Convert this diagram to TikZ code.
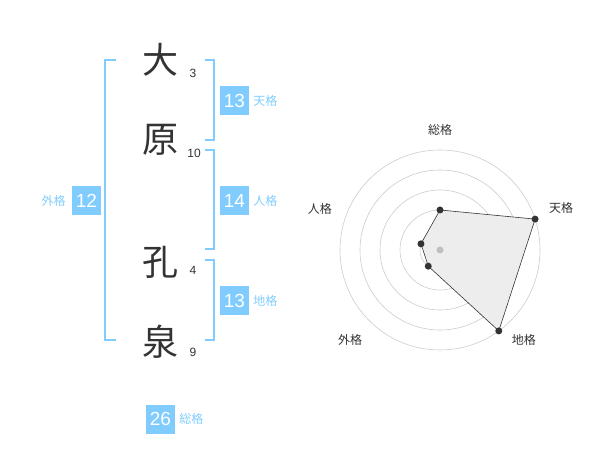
\documentclass[tikz,border=0pt]{standalone}
\usepackage{fontspec}
\setmainfont{Liberation Sans}
\newfontfamily\cjk{Noto Sans CJK JP}
\usepackage{tikz}
\usetikzlibrary{positioning}
\definecolor{kakublue}{HTML}{80CCFF}
\definecolor{inkgray}{HTML}{333333}
\tikzstyle{namechar}=[font=\cjk\fontsize{36}{36}\selectfont, text=inkgray, inner sep=0pt]
\tikzstyle{strokes}=[font=\fontsize{12}{12}\selectfont, text=inkgray, inner sep=0pt]
\tikzstyle{scorebox}=[fill=kakublue, text=white, minimum size=29pt, inner sep=0pt, font=\fontsize{19}{19}\selectfont]
\tikzstyle{kakulbl}=[font=\cjk\fontsize{12}{12}\selectfont, text=kakublue, inner sep=0pt]
\tikzstyle{bracket}=[draw=kakublue, line width=2pt]
\tikzstyle{ring}=[draw=black!20, line width=0.6pt]
\tikzstyle{radarlbl}=[font=\cjk\fontsize{12}{12}\selectfont, text=inkgray, inner sep=0pt]
\tikzstyle{tinyvertex}=[circle, fill=inkgray, minimum size=7pt, inner sep=0pt]

\begin{document}
\begin{tikzpicture}[x=1pt, y=-1pt]
    \useasboundingbox (0,0) rectangle (600,470);

    % the name, one character per row
    \foreach \pos/\name/\ch in {{(160,60)/c1/大}, {(160,140)/c2/原}, {(160,262)/c3/孔}, {(160,342)/c4/泉}}
        \node[namechar] (\name) at \pos {\ch};
    \foreach \pos/\name/\n in {{(193,73)/s1/3}, {(194,153)/s2/10}, {(193,270)/s3/4}, {(193,352)/s4/9}}
        \node[strokes] (\name) at \pos {\n};

    % brackets
    \draw[bracket] (116,60) -- (105,60) -- (105,340) -- (116,340);
    \draw[bracket] (205,60) -- (214,60) -- (214,140) -- (205,140);
    \draw[bracket] (205,150) -- (214,150) -- (214,249) -- (205,249);
    \draw[bracket] (205,260) -- (214,260) -- (214,340) -- (205,340);

    % scores
    \node[scorebox] (ten) at (234.5,100.5) {13};
    \node[kakulbl, right=4pt of ten] (tenl) {天格};
    \node[scorebox] (jin) at (234.5,200.5) {14};
    \node[kakulbl, right=4pt of jin] (jinl) {人格};
    \node[scorebox] (chi) at (234.5,300.5) {13};
    \node[kakulbl, right=4pt of chi] (chil) {地格};
    \node[scorebox] (gai) at (86.5,200.5) {12};
    \node[kakulbl, left=6pt of gai] (gail) {外格};
    \node[scorebox] (so) at (160.5,419) {26};
    \node[kakulbl, right=4pt of so] (sol) {総格};

    % radar chart
    \coordinate (ctr) at (440,250);
    \foreach \r in {20,40,60,80,100}
        \draw[ring] (ctr) circle (\r pt);
    \begin{scope}[shift={(ctr)}]
    \foreach \ang/\val/\name in {90/2/so, 18/5/ten, -54/5/chi, -126/1/gai, 162/1/jin}
        \coordinate (p-\name) at (\ang:\val*20pt);
    \foreach \ang/\rad/\name/\txt in {90/120/so/総格, 19/128/ten/天格, -47/123/chi/地格, -135/127/gai/外格, 161/127/jin/人格}
        \node[radarlbl] (l-\name) at (\ang:\rad pt) {\txt};
    \end{scope}
    \path[fill=black!7, draw=inkgray, line width=0.6pt] (p-so) -- (p-ten) -- (p-chi) -- (p-gai) -- (p-jin) -- cycle;
    \node[tinyvertex, fill=black!25] at (ctr) {};
    \foreach \name in {so, ten, chi, gai, jin}
        \node[tinyvertex] at (p-\name) {};
\end{tikzpicture}
\end{document}
